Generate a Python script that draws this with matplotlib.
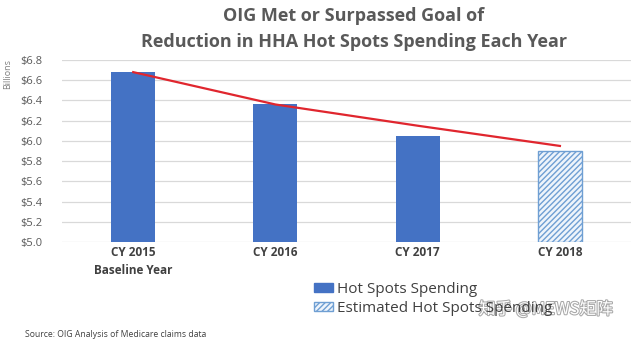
import matplotlib.pyplot as plt
import matplotlib.patheffects as pe
from matplotlib.patches import Patch

plt.rcParams['font.family'] = ['Open Sans', 'Noto Sans CJK SC', 'DejaVu Sans']
plt.rcParams['hatch.linewidth'] = 1.0

years = ['CY 2015\nBaseline Year', 'CY 2016', 'CY 2017', 'CY 2018']
spending = [6.68, 6.36, 6.05, 5.90]
estimated = [False, False, False, True]
goal = [6.68, 6.36, 6.15, 5.95]
yticks = [5.0, 5.2, 5.4, 5.6, 5.8, 6.0, 6.2, 6.4, 6.6, 6.8]

blue = '#4472C4'
hatch_blue = '#6f9fd3'
text_gray = '#595959'

fig = plt.figure(figsize=(6.4, 3.42), dpi=100)
ax = fig.add_axes([0.097, 0.2924, 0.889, 0.5322])

x = range(len(years))
for i in x:
    if estimated[i]:
        ax.bar(i, spending[i] - 5.0, bottom=5.0, width=0.31, color='#eef4fb',
               edgecolor=hatch_blue, hatch='//////', linewidth=1.0, zorder=2)
    else:
        ax.bar(i, spending[i] - 5.0, bottom=5.0, width=0.31, color=blue, zorder=2)

ax.plot(list(x), goal, color='#e0262e', linewidth=1.6, zorder=3)

ax.set_xlim(-0.5, 3.5)
ax.set_ylim(5.0, 6.8)
ax.set_yticks(yticks)
ax.set_yticklabels([f'${v:.1f}' for v in yticks], color=text_gray, fontsize=8)
ax.set_xticks(list(x))
ax.set_xticklabels(years, fontsize=8.5, fontweight='bold', color='#404040',
                   linespacing=1.45, va='top')
ax.tick_params(axis='y', length=0, pad=14)
ax.tick_params(axis='x', length=0, pad=3)
ax.grid(axis='y', color='#d9d9d9', linewidth=0.9, zorder=0)
for s in ax.spines.values():
    s.set_visible(False)

fig.text(0.0125, 0.785, 'Billions', rotation=90, fontsize=6.5, color='#7f7f7f',
         ha='center', va='center')

fig.text(0.553, 0.915, 'OIG Met or Surpassed Goal of\nReduction in HHA Hot Spots Spending Each Year',
         ha='center', va='center', fontsize=13, fontweight='bold', color=text_gray,
         linespacing=1.6)

handles = [Patch(facecolor=blue, edgecolor=blue),
           Patch(facecolor='#eef4fb', edgecolor=hatch_blue, hatch='//////')]
fig.legend(handles, ['Hot Spots Spending', 'Estimated Hot Spots Spending'],
           loc='upper left', bbox_to_anchor=(0.478, 0.198), frameon=False,
           fontsize=11, handlelength=1.3, handleheight=0.55, handletextpad=0.25,
           labelspacing=0.25, borderpad=0, labelcolor='#404040')

fig.text(0.039, 0.01, 'Source: OIG Analysis of Medicare claims data', fontsize=6.2,
         color='#404040', va='bottom')

fig.text(0.748, 0.095, '知乎 @MEWS矩阵', fontsize=12, color='white',
         family=['Noto Sans CJK SC', 'DejaVu Sans'], va='center',
         path_effects=[pe.withStroke(linewidth=1.5, foreground='#a8a8a8')])

fig.savefig('out.png', dpi=100)
